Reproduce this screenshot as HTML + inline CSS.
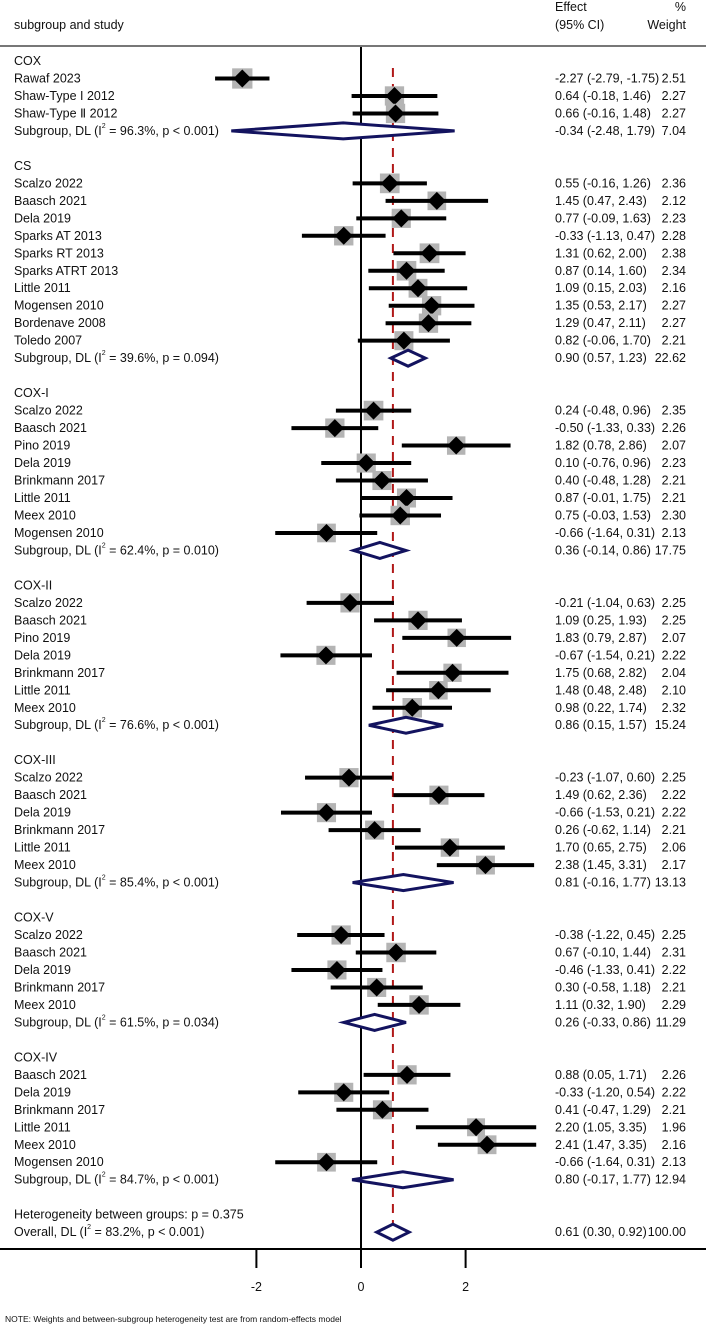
<!DOCTYPE html>
<html><head><meta charset="utf-8"><style>
html,body{margin:0;padding:0;background:#fff;}
svg{display:block;font-family:"Liberation Sans",Arial,sans-serif;}
</style></head><body>
<svg id="chart" width="706" height="1328" viewBox="0 0 706 1328" xmlns="http://www.w3.org/2000/svg"></svg>
<script>
// ---- data ----
const groupNames = ["COX","CS","COX-I","COX-II","COX-III","COX-V","COX-IV"];
const studyNames = [
 ["Rawaf 2023","Shaw-Type I 2012","Shaw-Type \u2161 2012"],
 ["Scalzo 2022","Baasch 2021","Dela 2019","Sparks AT 2013","Sparks RT 2013","Sparks ATRT 2013","Little 2011","Mogensen 2010","Bordenave 2008","Toledo 2007"],
 ["Scalzo 2022","Baasch 2021","Pino 2019","Dela 2019","Brinkmann 2017","Little 2011","Meex 2010","Mogensen 2010"],
 ["Scalzo 2022","Baasch 2021","Pino 2019","Dela 2019","Brinkmann 2017","Little 2011","Meex 2010"],
 ["Scalzo 2022","Baasch 2021","Dela 2019","Brinkmann 2017","Little 2011","Meex 2010"],
 ["Scalzo 2022","Baasch 2021","Dela 2019","Brinkmann 2017","Meex 2010"],
 ["Baasch 2021","Dela 2019","Brinkmann 2017","Little 2011","Meex 2010","Mogensen 2010"]
];
const studyEst = [
 [-2.27,0.64,0.66],
 [0.55,1.45,0.77,-0.33,1.31,0.87,1.09,1.35,1.29,0.82],
 [0.24,-0.50,1.82,0.10,0.40,0.87,0.75,-0.66],
 [-0.21,1.09,1.83,-0.67,1.75,1.48,0.98],
 [-0.23,1.49,-0.66,0.26,1.70,2.38],
 [-0.38,0.67,-0.46,0.30,1.11],
 [0.88,-0.33,0.41,2.20,2.41,-0.66]
];
const studyLo = [
 [-2.79,-0.18,-0.16],
 [-0.16,0.47,-0.09,-1.13,0.62,0.14,0.15,0.53,0.47,-0.06],
 [-0.48,-1.33,0.78,-0.76,-0.48,-0.01,-0.03,-1.64],
 [-1.04,0.25,0.79,-1.54,0.68,0.48,0.22],
 [-1.07,0.62,-1.53,-0.62,0.65,1.45],
 [-1.22,-0.10,-1.33,-0.58,0.32],
 [0.05,-1.20,-0.47,1.05,1.47,-1.64]
];
const studyHi = [
 [-1.75,1.46,1.48],
 [1.26,2.43,1.63,0.47,2.00,1.60,2.03,2.17,2.11,1.70],
 [0.96,0.33,2.86,0.96,1.28,1.75,1.53,0.31],
 [0.63,1.93,2.87,0.21,2.82,2.48,1.74],
 [0.60,2.36,0.21,1.14,2.75,3.31],
 [0.45,1.44,0.41,1.18,1.90],
 [1.71,0.54,1.29,3.35,3.35,0.31]
];
const studyWeight = [
 [2.51,2.27,2.27],
 [2.36,2.12,2.23,2.28,2.38,2.34,2.16,2.27,2.27,2.21],
 [2.35,2.26,2.07,2.23,2.21,2.21,2.30,2.13],
 [2.25,2.25,2.07,2.22,2.04,2.10,2.32],
 [2.25,2.22,2.22,2.21,2.06,2.17],
 [2.25,2.31,2.22,2.21,2.29],
 [2.26,2.22,2.21,1.96,2.16,2.13]
];
const subEst = [-0.34,0.90,0.36,0.86,0.81,0.26,0.80];
const subLo = [-2.48,0.57,-0.14,0.15,-0.16,-0.33,-0.17];
const subHi = [1.79,1.23,0.86,1.57,1.77,0.86,1.77];
const subWeight = [7.04,22.62,17.75,15.24,13.13,11.29,12.94];
const subI2 = ["96.3%","39.6%","62.4%","76.6%","85.4%","61.5%","84.7%"];
const subP = ["p < 0.001","p = 0.094","p = 0.010","p < 0.001","p < 0.001","p = 0.034","p < 0.001"];
const overall = [0.61,0.30,0.92];
const overallWeight = "100.00";
const overallI2 = "83.2%";
const hetP = "0.375";
const xTicks = [-2,0,2];

// ---- layout ----
const NS="http://www.w3.org/2000/svg";
const svg=document.getElementById('chart');
const X0=361, XU=52.3;
function xs(v){return X0+v*XU;}
const Y0=61, RH=17.48;
function ys(i){return Y0+i*RH;}
function mk(tag,attrs,parent){const e=document.createElementNS(NS,tag);for(const k in attrs)e.setAttribute(k,attrs[k]);(parent||svg).appendChild(e);return e;}
function txt(x,y,s,anchor){const t=mk('text',{x:x,y:y,'font-size':'12.5','fill':'#111','dominant-baseline':'central','text-anchor':anchor||'start'});t.textContent=s;return t;}
const f2=v=>v.toFixed(2);

// header
let h1=txt(14,25,"subgroup and study");


let h2=txt(555,7,"Effect");


let h3=txt(555,25,"(95% CI)");


let h4=txt(686,7,"%","end");


let h5=txt(686,25,"Weight","end");


let hl=mk('line',{x1:0,x2:706,y1:46,y2:46,stroke:'#777','stroke-width':2});



// null line & axis
const axisY=1249;
let zl=mk('line',{x1:X0,x2:X0,y1:47,y2:axisY,stroke:'#000','stroke-width':2});


let ax=mk('line',{x1:0,x2:706,y1:axisY,y2:axisY,stroke:'#000','stroke-width':2});


xTicks.forEach(t=>{
  let tk=mk('line',{x1:xs(t),x2:xs(t),y1:axisY,y2:1268,stroke:'#000','stroke-width':2});
  
  
  let tl=txt(xs(t),1287,String(t),'middle');
  
  
});
let note=mk('text',{x:5,y:1319,'font-size':'8.5','fill':'#111','dominant-baseline':'central'});
note.textContent="NOTE: Weights and between-subgroup heterogeneity test are from random-effects model";



// overall effect line (red dashed)
let ol=mk('line',{x1:xs(overall[0]),x2:xs(overall[0]),y1:68,y2:1240,stroke:'#b01818','stroke-width':2,'stroke-dasharray':'9 7'});



function diamond(y,est,lo,hi,name){
  const d=mk('polygon',{points:`${xs(lo)},${y} ${xs(est)},${y-8} ${xs(hi)},${y} ${xs(est)},${y+8}`,fill:'#fff',stroke:'#13135f','stroke-width':3,'stroke-linejoin':'miter'});
  
  
}
function subLabel(y,i2,p,name){
  const t=mk('text',{x:14,y:y,'font-size':'12.5','fill':'#111','dominant-baseline':'central'});
  
  
  t.appendChild(document.createTextNode(name==='overall-label'?"Overall, DL (I":"Subgroup, DL (I"));
  const sp=mk('tspan',{'font-size':'7',dy:'-5'},t);sp.textContent="2";
  const rest=mk('tspan',{dy:'5'},t);rest.textContent=` = ${i2}, ${p})`;
}

let row=0;
groupNames.forEach((g,gi)=>{
  let gl=txt(14,ys(row),g);
  
  
  row++;
  studyNames[gi].forEach((s,si)=>{
    const y=ys(row);
    let sl=txt(14,y,s);
    
    
    const w=studyWeight[gi][si];
    const sz=19*Math.sqrt(w/2.2);
    const est=studyEst[gi][si];
    let sq=mk('rect',{x:xs(est)-sz/2,y:y-sz/2,width:sz,height:sz,fill:'#b4b4b4'});
    
    
    let ci=mk('line',{x1:xs(studyLo[gi][si]),x2:xs(studyHi[gi][si]),y1:y,y2:y,stroke:'#000','stroke-width':4});
    
    
    let pt=mk('polygon',{points:`${xs(est)-9},${y} ${xs(est)},${y-9} ${xs(est)+9},${y} ${xs(est)},${y+9}`,fill:'#000'});
    
    
    let et=txt(555,y,`${f2(est)} (${f2(studyLo[gi][si])}, ${f2(studyHi[gi][si])})`);
    
    
    let wt=txt(686,y,f2(w),'end');
    
    
    row++;
  });
  const y=ys(row);
  subLabel(y,subI2[gi],subP[gi],'subgroup-label');
  diamond(y,subEst[gi],subLo[gi],subHi[gi],'subgroup-diamond');
  let et=txt(555,y,`${f2(subEst[gi])} (${f2(subLo[gi])}, ${f2(subHi[gi])})`);
  
  
  let wt=txt(686,y,f2(subWeight[gi]),'end');
  
  
  row+=2;
});
let het=txt(14,ys(row),"Heterogeneity between groups: p = "+hetP);


row++;
const oy=ys(row);
subLabel(oy,overallI2,"p < 0.001",'overall-label');
diamond(oy,overall[0],overall[1],overall[2],'overall-diamond');
let oe=txt(555,oy,`${f2(overall[0])} (${f2(overall[1])}, ${f2(overall[2])})`);


let ow=txt(686,oy,overallWeight,'end');


</script>
</body></html>
